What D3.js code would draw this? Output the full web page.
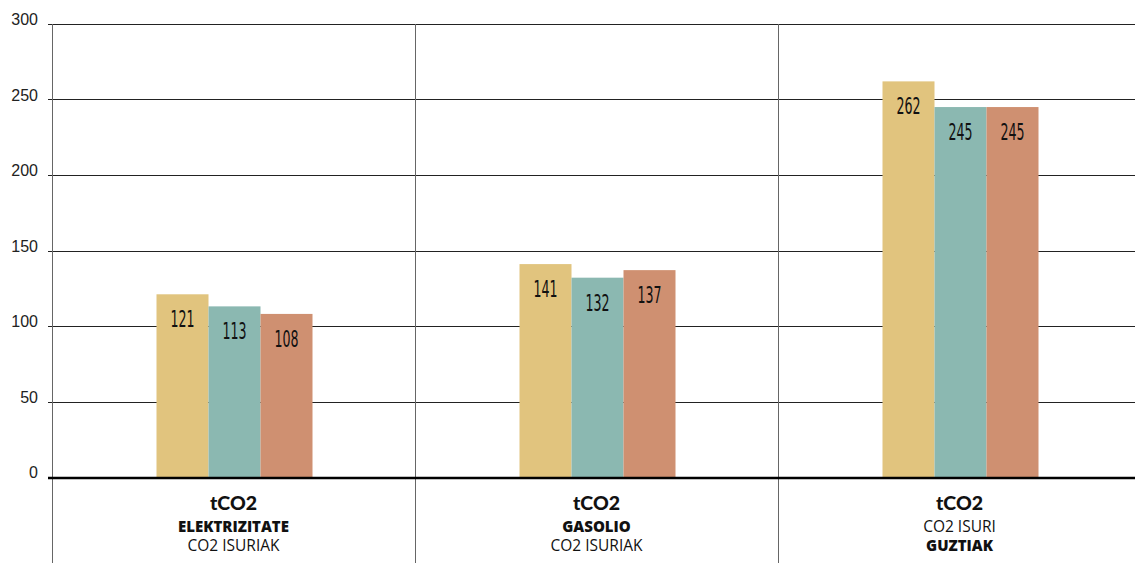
<!DOCTYPE html>
<html><head><meta charset="utf-8">
<script src="https://cdn.jsdelivr.net/npm/d3@7"></script>
<style>body{margin:0;background:#fff}svg{display:block}</style>
</head><body>
<svg id="c" width="1135" height="563"></svg>
<script>
const categories = ["ELEKTRIZITATE", "GASOLIO", "GUZTIAK"];
const seriesNames = ["s1", "s2", "s3"];
const series1 = [121, 141, 262];
const series2 = [113, 132, 245];
const series3 = [108, 137, 245];
const yTicks = [0, 50, 100, 150, 200, 250, 300];
const labelLines = [
  [["tCO2", "b1"], ["ELEKTRIZITATE", "b2"], ["CO2 ISURIAK", "n"]],
  [["tCO2", "b1"], ["GASOLIO", "b2"], ["CO2 ISURIAK", "n"]],
  [["tCO2", "b1"], ["CO2 ISURI", "n"], ["GUZTIAK", "b2"]]
];
const colors = ["#E1C47E", "#8BB8B1", "#CF9071"];

(function () {
const svg = d3.select("#c");
const mLeft = 52, mRight = 1141, mTop = 24, mBottom = 477;
const x = d3.scaleBand().domain(categories).range([mLeft, mRight]).padding(0);
const y = d3.scaleLinear().domain([0, 300]).range([mBottom, mTop]);
const inner = d3.scaleBand().domain(seriesNames).range([0, 156]);
const all = [series1, series2, series3];

// horizontal grid
svg.append("g").selectAll("line").data(yTicks.filter(d => d > 0)).join("line")
  .attr("x1", mLeft - 4).attr("x2", 1135)
  .attr("y1", d => Math.round(y(d)) + 0.5).attr("y2", d => Math.round(y(d)) + 0.5)
  .attr("stroke", "#222").attr("stroke-width", 1);

// vertical separators
svg.append("g").selectAll("line").data(categories).join("line")
  .attr("x1", d => Math.round(x(d)) + 0.5).attr("x2", d => Math.round(x(d)) + 0.5)
  .attr("y1", mTop).attr("y2", 563)
  .attr("stroke", "#666").attr("stroke-width", 1);

// tick labels
svg.append("g").selectAll("text").data(yTicks).join("text")
  .attr("x", 38).attr("y", d => y(d) + 1)
  .attr("text-anchor", "end")
  .attr("font-family", "Liberation Sans, Arial, sans-serif")
  .attr("font-size", 16).attr("fill", "#222")
  .text(d => d);

// bars
categories.forEach((c, ci) => {
  const g = svg.append("g").attr("transform", `translate(${x(c) + x.bandwidth()/2 - 77},0)`);
  seriesNames.forEach((s, si) => {
    const v = all[si][ci];
    g.append("rect")
      .attr("x", inner(s)).attr("width", inner.bandwidth())
      .attr("y", y(v)).attr("height", y(0) - y(v))
      .attr("fill", colors[si]);
    const tx = inner(s) + inner.bandwidth()/2, ty = y(v) + 33;
    g.append("text")
      .attr("transform", `translate(${tx},${ty}) scale(0.56,1)`)
      .attr("text-anchor", "middle")
      .attr("font-family", "DejaVu Sans, sans-serif")
      .attr("font-size", 22.5).attr("fill", "#111")
      .text(v);
  });
});

// zero line
svg.append("line").attr("x1", mLeft - 4).attr("x2", 1135)
  .attr("y1", y(0) + 1).attr("y2", y(0) + 1)
  .attr("stroke", "#000").attr("stroke-width", 2.5);

// category labels
const lineY = [509.5, 532, 551];
categories.forEach((c, ci) => {
  const cx = x(c) + x.bandwidth()/2;
  labelLines[ci].forEach(([t, st], li) => {
    svg.append("text").attr("x", cx).attr("y", lineY[li])
      .attr("text-anchor", "middle")
      .attr("font-family", st === "b1" ? "Lato, sans-serif" : "Open Sans, sans-serif")
      .attr("font-weight", st === "n" ? 400 : (st === "b1" ? 900 : 800))
      .attr("font-size", st === "b1" ? 19.5 : (st === "n" ? 15.5 : 15))
      .attr("fill", "#111")
      .text(t);
  });
});
})();
</script>
</body></html>
